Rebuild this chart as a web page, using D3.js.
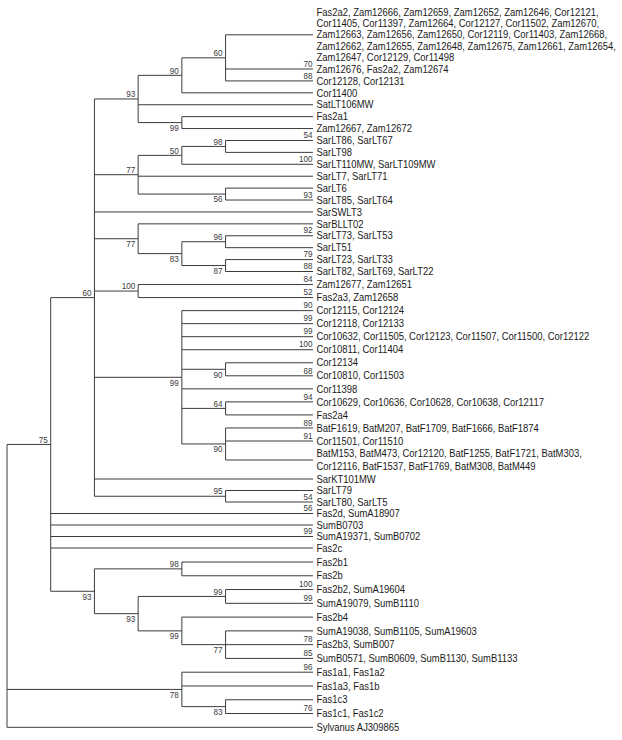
<!DOCTYPE html>
<html>
<head>
<meta charset="utf-8">
<script src="https://cdn.jsdelivr.net/npm/d3@7"></script>
<style>
  html, body { margin: 0; padding: 0; background: #fff; }
  svg { display: block; }
</style>
</head>
<body>
<svg id="chart" width="622" height="740"></svg>
<script>
// ---------------- DATA ----------------
// Leaf labels (collapsed groups), top to bottom; "\n" marks a line break in the label
const leafLabels = [
  "Fas2a2, Zam12666, Zam12659, Zam12652, Zam12646, Cor12121,\nCor11405, Cor11397, Zam12664, Cor12127, Cor11502, Zam12670,\nZam12663, Zam12656, Zam12650, Cor12119, Cor11403, Zam12668,\nZam12662, Zam12655, Zam12648, Zam12675, Zam12661, Zam12654,\nZam12647, Cor12129, Cor11498",
  "Zam12676, Fas2a2, Zam12674",
  "Cor12128, Cor12131",
  "Cor11400",
  "SatLT106MW",
  "Fas2a1",
  "Zam12667, Zam12672",
  "SarLT86, SarLT67",
  "SarLT98",
  "SarLT110MW, SarLT109MW",
  "SarLT7, SarLT71",
  "SarLT6",
  "SarLT85, SarLT64",
  "SarSWLT3",
  "SarBLLT02",
  "SarLT73, SarLT53",
  "SarLT51",
  "SarLT23, SarLT33",
  "SarLT82, SarLT69, SarLT22",
  "Zam12677, Zam12651",
  "Fas2a3, Zam12658",
  "Cor12115, Cor12124",
  "Cor12118, Cor12133",
  "Cor10632, Cor11505, Cor12123, Cor11507, Cor11500, Cor12122",
  "Cor10811, Cor11404",
  "Cor12134",
  "Cor10810, Cor11503",
  "Cor11398",
  "Cor10629, Cor10636, Cor10628, Cor10638, Cor12117",
  "Fas2a4",
  "BatF1619, BatM207, BatF1709, BatF1666, BatF1874",
  "Cor11501, Cor11510",
  "BatM153, BatM473, Cor12120, BatF1255, BatF1721, BatM303,\nCor12116, BatF1537, BatF1769, BatM308, BatM449",
  "SarKT101MW",
  "SarLT79",
  "SarLT80, SarLT5",
  "Fas2d, SumA18907",
  "SumB0703",
  "SumA19371, SumB0702",
  "Fas2c",
  "Fas2b1",
  "Fas2b",
  "Fas2b2, SumA19604",
  "SumA19079, SumB1110",
  "Fas2b4",
  "SumA19038, SumB1105, SumA19603",
  "Fas2b3, SumB007",
  "SumB0571, SumB0609, SumB1130, SumB1133",
  "Fas1a1, Fas1a2",
  "Fas1a3, Fas1b",
  "Fas1c3",
  "Fas1c1, Fas1c2",
  "Sylvanus AJ309865"
];

// Bootstrap support shown on the terminal branch of each leaf (null = none)
const leafSupport = [
  null, 70, 88, null, null, null, null, 54, null, 100,
  null, null, 93, null, null, 92, null, 79, 88, 84,
  52, 90, 99, 99, 100, null, 68, null, 94, null,
  89, 91, null, null, null, 54, 56, null, 99, null,
  null, null, 100, 99, null, null, 78, 85, 96, null,
  null, 76, null
];

// Topology (Newick). Leaves tN refer to leafLabels[N-1]; internal labels = bootstrap;
// branch lengths in cladogram steps.
const newick =
  "(((" +
    "(((t1:2,t2:2,t3:2)60:1,t4:3)90:1,t5:4,(t6:3,t7:3)99:1)93:1," +
    "(((t8:2,t9:2)98:1,t10:3)50:1,t11:4,(t12:2,t13:2)56:2)77:1," +
    "t14:5," +
    "(t15:4,((t16:2,t17:2)96:1,(t18:2,t19:2)87:1)83:1)77:1," +
    "(t20:4,t21:4)100:1," +
    "(t22:3,t23:3,t24:3,t25:3,(t26:2,t27:2)90:1,t28:3,(t29:2,t30:2)64:1,(t31:2,t32:2,t33:2)90:1)99:2," +
    "t34:5," +
    "(t35:2,t36:2)95:3" +
  ")60:1," +
  "t37:6,t38:6,t39:6,t40:6," +
  "((t41:3,t42:3)98:2,((t43:2,t44:2)99:2,(t45:3,(t46:2,t47:2,t48:2)77:1)99:1)93:1)93:1" +
  ")75:1," +
  "(t49:3,t50:3,(t51:2,t52:2)83:1)78:4," +
  "t53:7);";

// Side of the branch on which each internal bootstrap value is printed (pre-order)
const supportSide = [
  "above", "above", "above", "above", "above", "below", "above", "above", "above", "below",
  "below", "below", "above", "below", "above", "below", "below", "above", "below", "above",
  "below", "above", "below", "above", "below", "below", "below", "below"
];

// ---------------- PARSE ----------------
function parseNewick(s) {
  let i = 0;
  function parseNode() {
    const node = { children: [] };
    if (s[i] === "(") {
      i++;
      node.children.push(parseNode());
      while (s[i] === ",") { i++; node.children.push(parseNode()); }
      i++; // ')'
    }
    let name = "";
    while (i < s.length && !",():;".includes(s[i])) name += s[i++];
    node.name = name;
    node.length = 0;
    if (s[i] === ":") {
      i++;
      let num = "";
      while (i < s.length && !",();".includes(s[i])) num += s[i++];
      node.length = +num;
    }
    if (!node.children.length) delete node.children;
    return node;
  }
  return parseNode();
}

const root = d3.hierarchy(parseNewick(newick));

// ---------------- LAYOUT ----------------
const svg = d3.select("#chart");
const LEAF_DEPTH = 7;
const x = d3.scaleLinear().domain([0, LEAF_DEPTH]).range([7, 313]);
// text-line index -> vertical position
const y = d3.scaleLinear()
  .domain([0, 5, 22, 35, 38, 44, 45, 57])
  .range([12, 69, 271.5, 441, 479, 548, 562, 727.3]);

root.eachBefore(n => { n.dist = n.parent ? n.parent.dist + n.data.length : 0; });

let cursor = 0;
root.leaves().forEach(leaf => {
  const idx = +leaf.data.name.slice(1) - 1;
  leaf.idx = idx;
  leaf.lines = leafLabels[idx].split("\n");
  leaf.lineStart = cursor;
  leaf.py = y(cursor + (leaf.lines.length - 1) / 2);
  cursor += leaf.lines.length;
});
root.eachAfter(n => {
  if (n.children) {
    n.py = (n.children[0].py + n.children[n.children.length - 1].py) / 2;
  }
  n.px = x(n.dist);
});

// ---------------- DRAW ----------------
const lineColor = "#3c3c3c";
const gLines = svg.append("g").attr("stroke", lineColor).attr("stroke-width", 1).attr("fill", "none");

root.descendants().forEach(n => {
  if (n.parent) {
    gLines.append("line")
      .attr("x1", n.parent.px).attr("x2", n.px)
      .attr("y1", n.py).attr("y2", n.py);
  }
  if (n.children) {
    gLines.append("line")
      .attr("x1", n.px).attr("x2", n.px)
      .attr("y1", n.children[0].py)
      .attr("y2", n.children[n.children.length - 1].py);
  }
});

const font = "'Liberation Sans', Arial, Helvetica, sans-serif";
const SX = 0.9;

// leaf labels
const gText = svg.append("g").attr("font-family", font).attr("font-size", 10.5).attr("fill", "#1a1a1a");
root.leaves().forEach(leaf => {
  leaf.lines.forEach((ln, k) => {
    gText.append("text")
      .attr("transform", `translate(316.5,${y(leaf.lineStart + k)}) scale(${SX},1)`)
      .attr("dy", "0.35em")
      .text(ln);
  });
});

// bootstrap values
const gSup = svg.append("g").attr("font-family", font).attr("font-size", 9).attr("fill", "#3a3a3a")
  .attr("text-anchor", "end");

root.leaves().forEach(leaf => {
  const v = leafSupport[leaf.idx];
  if (v != null) {
    gSup.append("text")
      .attr("transform", `translate(${x(LEAF_DEPTH) - 0.5},${leaf.py - 2.3}) scale(${SX},1)`)
      .text(v);
  }
});

let k = 0;
root.eachBefore(n => {
  if (n.children && n.parent) {
    const side = supportSide[k++];
    const ty = side === "above" ? n.py - 1.8 : n.py + 8.3;
    gSup.append("text")
      .attr("transform", `translate(${n.px - 3},${ty}) scale(${SX},1)`)
      .text(n.data.name);
  }
});
</script>
</body>
</html>
